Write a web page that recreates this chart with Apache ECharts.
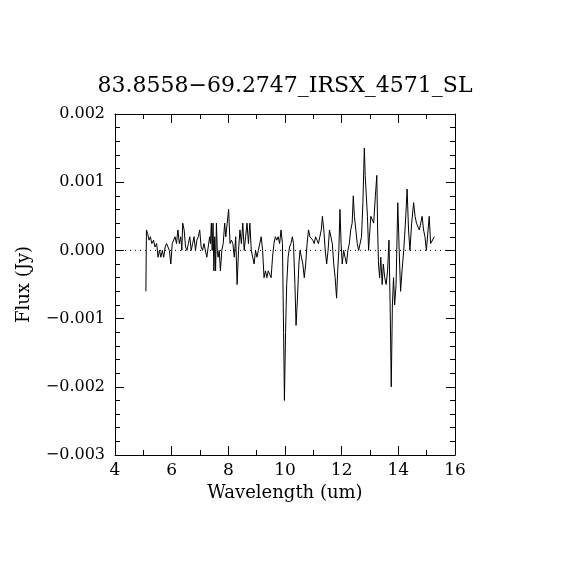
<!DOCTYPE html>
<html>
<head>
<meta charset="utf-8">
<script src="https://cdn.jsdelivr.net/npm/echarts@6/dist/echarts.min.js"></script>
<style>
  html, body { margin: 0; padding: 0; background: #fff; }
  #chart-container { width: 570px; height: 570px; }
</style>
</head>
<body>
<div id="chart-container"></div>
<script>
// spectrum
var wavelength = [
  5.09, 5.11, 5.15, 5.20, 5.25, 5.30, 5.36, 5.41, 5.47, 5.52, 5.57, 5.62, 5.67, 5.72, 5.77, 5.82,
  5.87, 5.92, 5.97, 6.02, 6.07, 6.12, 6.17, 6.22, 6.27, 6.32, 6.36, 6.39, 6.44, 6.49, 6.54, 6.59,
  6.64, 6.69, 6.74, 6.79, 6.84, 6.89, 6.94, 6.99, 7.04, 7.09, 7.14, 7.19, 7.24, 7.29, 7.34, 7.37,
  7.40, 7.43, 7.46, 7.49, 7.52, 7.55, 7.58, 7.61, 7.64, 7.68, 7.72, 7.77, 7.82, 7.87, 7.91, 7.96,
  8.01, 8.06, 8.11, 8.16, 8.21, 8.26, 8.31, 8.36, 8.41, 8.46, 8.51, 8.56, 8.61, 8.66, 8.71, 8.76,
  8.81, 8.86, 8.91, 8.96, 9.01, 9.06, 9.11, 9.16, 9.21, 9.26, 9.31, 9.36, 9.41, 9.46, 9.51, 9.56,
  9.61, 9.66, 9.71, 9.76, 9.81, 9.86, 9.91, 9.95, 9.98, 10.02, 10.06, 10.11, 10.16, 10.21, 10.26, 10.30,
  10.35, 10.39, 10.44, 10.49, 10.53, 10.58, 10.63, 10.68, 10.73, 10.78, 10.83, 10.88, 10.93, 10.98, 11.03, 11.08,
  11.13, 11.18, 11.23, 11.28, 11.32, 11.37, 11.42, 11.47, 11.52, 11.57, 11.62, 11.67, 11.72, 11.77, 11.82, 11.86,
  11.90, 11.94, 11.98, 12.02, 12.07, 12.12, 12.17, 12.22, 12.27, 12.32, 12.37, 12.41, 12.45, 12.50, 12.55, 12.60,
  12.65, 12.70, 12.75, 12.78, 12.80, 12.83, 12.87, 12.91, 12.95, 12.98, 13.03, 13.08, 13.13, 13.19, 13.24, 13.27,
  13.30, 13.34, 13.38, 13.43, 13.47, 13.52, 13.57, 13.62, 13.67, 13.71, 13.75, 13.79, 13.83, 13.87, 13.92, 13.98,
  14.03, 14.08, 14.13, 14.19, 14.25, 14.31, 14.36, 14.41, 14.47, 14.54, 14.59, 14.64, 14.69, 14.74, 14.79, 14.84,
  14.89, 14.94, 14.99, 15.04, 15.09, 15.14, 15.20, 15.27
];
var flux = [
  -0.0006, 0.0003, 0.00025, 0.00015, 0.0002, 0.0001, 0.00015, 0.00005, 0.0001, -0.0001, 0.0, -0.0001, 0.0, -0.0001, 0.00005, 0.0001,
  0.0001, 0.0, -0.0002, 0.0001, 0.0001, 0.0002, 0.0001, 0.0003, 0.0001, 0.0002, 0.0, 0.0004, 0.0003, 0.00005, 0.0, 0.0001,
  0.0002, 0.0, 0.0001, 0.0002, 0.0, 0.00015, 0.0002, 0.0003, 0.00005, 0.0, 0.0001, 0.0, -0.0001, 0.00005, 0.0002, 0.0001,
  0.0004, 0.0, 0.0004, -0.0003, 0.0002, -0.0003, 0.0004, 0.0, -0.0001, 0.0, -0.0003, 0.0, 0.0001, 0.0004, 0.0002, 0.0004,
  0.0006, 0.0001, 0.00015, 0.0001, -0.0001, 0.0002, -0.0005, 0.0, 0.0003, 0.0001, 0.0004, 0.0, 0.0002, 0.0004, 0.0001, 0.0004,
  0.0, -0.0001, -0.0002, 0.0, -0.0001, 0.0, 0.0001, 0.0002, 0.0, -0.0004, -0.0003, -0.0004, -0.0003, -0.00035, -0.0004, -0.0001,
  0.0001, 0.0002, 0.00015, 0.0002, 0.0001, 0.0003, 0.0001, -0.0012, -0.0022, -0.0012, -0.0005, -0.0001, 0.00005, 0.0001, 0.0002, 0.0001,
  -0.0005, -0.0011, -0.0007, -0.0002, 0.0, -0.0001, -0.0002, -0.0004, -0.0002, 0.0001, 0.0003, 0.0002, 0.0002, 0.00015, 0.0001, 0.0002,
  0.00015, 0.0001, 0.0002, 0.0003, 0.0005, 0.0003, 0.0, -0.0002, 0.0, 0.0003, 0.0003, 0.0001, -0.0002, -0.0004, -0.0007, -0.0003,
  0.0, 0.0006, 0.0001, -0.0002, 0.0, -0.0001, -0.0002, 0.0, 0.0001, 0.0003, 0.0004, 0.0008, 0.0005, 0.0005, 0.0001, 0.0,
  0.0, 0.0002, 0.0007, 0.0012, 0.0015, 0.0011, 0.0008, 0.0005, 0.0, 0.0002, 0.0005, 0.0005, 0.0004, 0.0008, 0.0011, 0.0003,
  -0.0002, -0.0004, -0.0001, -0.0005, -0.0002, -0.0004, -0.0005, -0.0003, 0.00015, -0.0008, -0.002, -0.0008, -0.0004, -0.0008, -0.0005, 0.0007,
  0.0, -0.0006, -0.0003, 0.0, 0.0004, 0.0009, 0.0003, 0.0, 0.0004, 0.0007, 0.0005, 0.0004, 0.0004, 0.0003, 0.0004, 0.0005,
  0.0003, 0.0002, 0.0, 0.0, 0.0005, 0.0001, 0.0001, 0.0002
];
var xTicks = [4, 6, 8, 10, 12, 14, 16];
var yTicks = [-0.003, -0.002, -0.001, 0.000, 0.001, 0.002];
var zeroLevel = 0;

var titleText = '83.8558\u221269.2747_IRSX_4571_SL';
var fontFam = 'DejaVu Serif';

var points = wavelength.map(function (w, i) {
  return [w, flux[i]];
});
var zeroLine = [[xTicks[0], zeroLevel], [xTicks[xTicks.length - 1], zeroLevel]];

function fmtY(v) {
  var s = Math.abs(v).toFixed(3);
  return v < -1e-9 ? '\u2212' + s : s;
}

var dom = document.getElementById('chart-container');
var myChart = echarts.init(dom, null, { renderer: 'canvas' });

// onZero off, otherwise the x axis line sits on flux = 0
var axisLine = { show: true, onZero: false, lineStyle: { color: '#000', width: 1 } };
var majorTick = { inside: true, length: 9, lineStyle: { color: '#000' } };

var option = {
  backgroundColor: '#fff',
  animation: false,
  title: {
    text: titleText,
    left: 'center',
    top: 70,
    textStyle: { fontFamily: fontFam, fontSize: 22, fontWeight: 'normal', color: '#000' }
  },
  grid: { left: 115, right: 115, top: 114, bottom: 115 },
  xAxis: [
    {
      type: 'value',
      min: xTicks[0],
      max: xTicks[xTicks.length - 1],
      interval: 2,
      position: 'bottom',
      name: 'Wavelength (um)',
      nameLocation: 'middle',
      nameGap: 27,
      nameTextStyle: { fontFamily: fontFam, fontSize: 18, color: '#000' },
      axisLine: axisLine,
      axisTick: majorTick,
      minorTick: { show: true, splitNumber: 2, length: 5, lineStyle: { color: '#000' } },
      axisLabel: { margin: 7, fontFamily: fontFam, fontSize: 17, color: '#000' },
      splitLine: { show: false }
    },
    {
      type: 'value',
      min: xTicks[0],
      max: xTicks[xTicks.length - 1],
      interval: 2,
      position: 'top',
      axisLine: axisLine,
      axisTick: majorTick,
      minorTick: { show: true, splitNumber: 2, length: 5, lineStyle: { color: '#000' } },
      axisLabel: { show: false },
      splitLine: { show: false }
    }
  ],
  yAxis: [
    {
      type: 'value',
      min: yTicks[0],
      max: yTicks[yTicks.length - 1],
      interval: 0.001,
      position: 'left',
      name: 'Flux (Jy)',
      nameLocation: 'middle',
      nameGap: 82,
      nameTextStyle: { fontFamily: fontFam, fontSize: 18, color: '#000' },
      axisLine: axisLine,
      axisTick: majorTick,
      minorTick: { show: true, splitNumber: 5, length: 5, lineStyle: { color: '#000' } },
      axisLabel: { margin: 10, fontFamily: fontFam, fontSize: 16, color: '#000', formatter: fmtY },
      splitLine: { show: false }
    },
    {
      type: 'value',
      min: yTicks[0],
      max: yTicks[yTicks.length - 1],
      interval: 0.001,
      position: 'right',
      axisLine: axisLine,
      axisTick: majorTick,
      minorTick: { show: true, splitNumber: 5, length: 5, lineStyle: { color: '#000' } },
      axisLabel: { show: false },
      splitLine: { show: false }
    }
  ],
  series: [
    {
      type: 'line',
      data: zeroLine,
      showSymbol: false,
      silent: true,
      lineStyle: { color: '#000', width: 1, type: [1, 4] },
      z: 1
    },
    {
      type: 'line',
      data: points,
      showSymbol: false,
      lineStyle: { color: '#000', width: 1 },
      z: 2
    }
  ]
};

myChart.setOption(option);
</script>
</body>
</html>
